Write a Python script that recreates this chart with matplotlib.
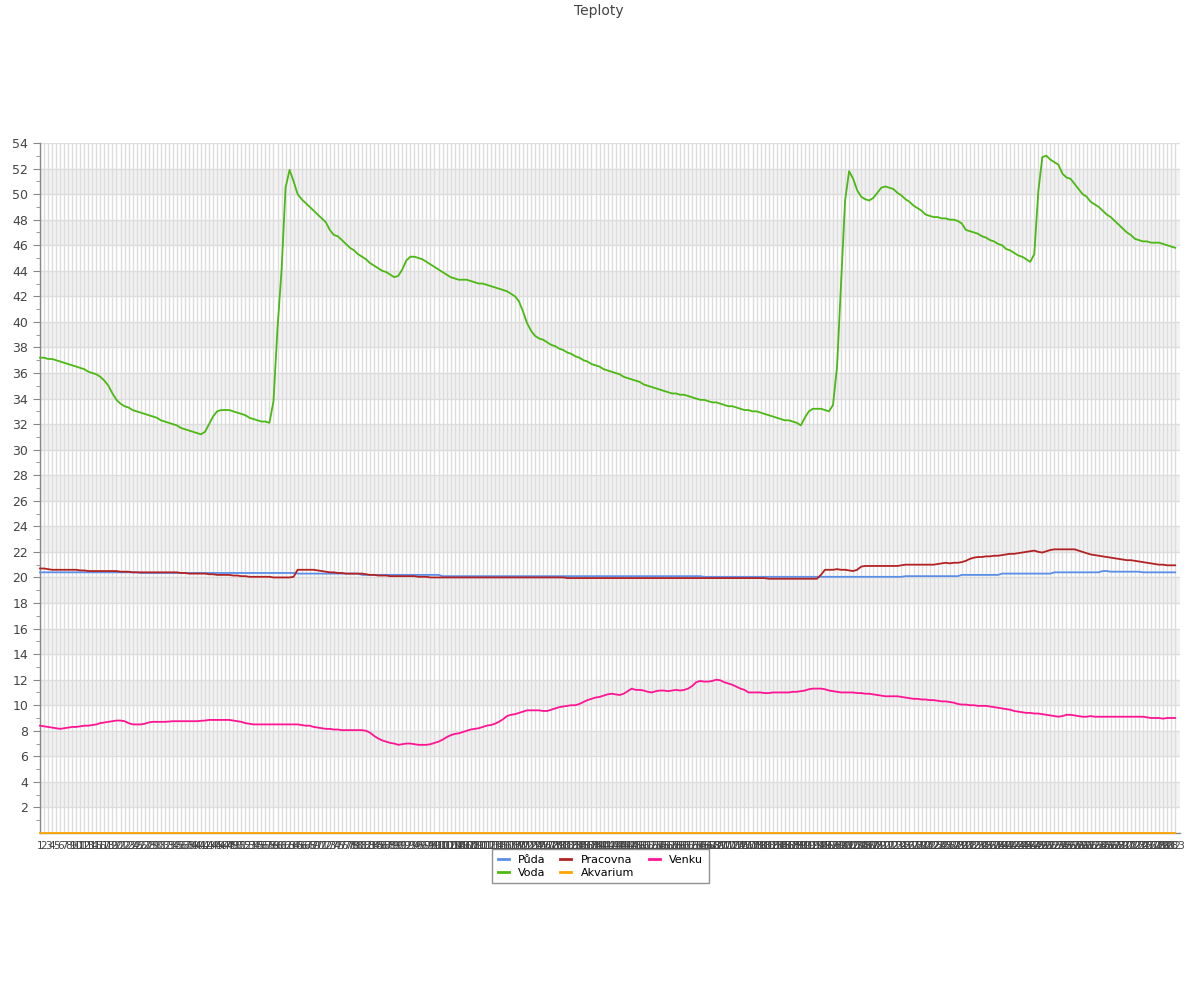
import matplotlib
matplotlib.use("Agg")
import matplotlib.pyplot as plt
from matplotlib.lines import Line2D

title = "Teploty"
series_names = ["Půda", "Voda", "Pracovna", "Akvarium", "Venku"]

voda = [
    37.2, 37.2, 37.1, 37.1, 37.0, 36.9, 36.8, 36.7, 36.6, 36.5,
    36.4, 36.3, 36.1, 36.0, 35.9, 35.7, 35.4, 35.0, 34.4, 33.9,
    33.6, 33.4, 33.3, 33.1, 33.0, 32.9, 32.8, 32.7, 32.6, 32.5,
    32.3, 32.2, 32.1, 32.0, 31.9, 31.7, 31.6, 31.5, 31.4, 31.3,
    31.2, 31.4, 32.0, 32.6, 33.0, 33.1, 33.1, 33.1, 33.0, 32.9,
    32.8, 32.7, 32.5, 32.4, 32.3, 32.2, 32.2, 32.1, 33.8, 39.5,
    44.0, 50.5, 51.9, 51.0, 50.0, 49.6, 49.3, 49.0, 48.7, 48.4,
    48.1, 47.8, 47.2, 46.8, 46.7, 46.4, 46.1, 45.8, 45.6, 45.3,
    45.1, 44.9, 44.6, 44.4, 44.2, 44.0, 43.9, 43.7, 43.5, 43.6,
    44.1, 44.8, 45.1, 45.1, 45.0, 44.9, 44.7, 44.5, 44.3, 44.1,
    43.9, 43.7, 43.5, 43.4, 43.3, 43.3, 43.3, 43.2, 43.1, 43.0,
    43.0, 42.9, 42.8, 42.7, 42.6, 42.5, 42.4, 42.2, 42.0, 41.6,
    40.8, 39.9, 39.3, 38.9, 38.7, 38.6, 38.4, 38.2, 38.1, 37.9,
    37.8, 37.6, 37.5, 37.3, 37.2, 37.0, 36.9, 36.7, 36.6, 36.5,
    36.3, 36.2, 36.1, 36.0, 35.9, 35.7, 35.6, 35.5, 35.4, 35.3,
    35.1, 35.0, 34.9, 34.8, 34.7, 34.6, 34.5, 34.4, 34.4, 34.3,
    34.3, 34.2, 34.1, 34.0, 33.9, 33.9, 33.8, 33.7, 33.7, 33.6,
    33.5, 33.4, 33.4, 33.3, 33.2, 33.1, 33.1, 33.0, 33.0, 32.9,
    32.8, 32.7, 32.6, 32.5, 32.4, 32.3, 32.3, 32.2, 32.1, 31.9,
    32.5, 33.0, 33.2, 33.2, 33.2, 33.1, 33.0, 33.5, 36.5, 43.0,
    49.5, 51.8, 51.2, 50.3, 49.8, 49.6, 49.5, 49.7, 50.1, 50.5,
    50.6, 50.5, 50.4, 50.1, 49.9, 49.6, 49.4, 49.1, 48.9, 48.7,
    48.4, 48.3, 48.2, 48.2, 48.1, 48.1, 48.0, 48.0, 47.9, 47.7,
    47.2, 47.1, 47.0, 46.9, 46.7, 46.6, 46.4, 46.3, 46.1, 46.0,
    45.7, 45.6, 45.4, 45.2, 45.1, 44.9, 44.7, 45.3, 50.2, 52.9,
    53.0, 52.7, 52.5, 52.3, 51.6, 51.3, 51.2, 50.8, 50.4, 50.0,
    49.8, 49.4, 49.2, 49.0, 48.7, 48.4, 48.2, 47.9, 47.6, 47.3,
    47.0, 46.8, 46.5, 46.4, 46.3, 46.3, 46.2, 46.2, 46.2, 46.1,
    46.0, 45.9, 45.8,
]

venku = [
    8.4, 8.35, 8.3, 8.25, 8.2, 8.15, 8.2, 8.25, 8.3, 8.3,
    8.35, 8.4, 8.4, 8.45, 8.5, 8.6, 8.65, 8.7, 8.75, 8.8,
    8.8, 8.75, 8.6, 8.5, 8.5, 8.5, 8.55, 8.65, 8.7, 8.7,
    8.7, 8.7, 8.72, 8.75, 8.75, 8.75, 8.75, 8.75, 8.75, 8.75,
    8.78, 8.8, 8.85, 8.85, 8.85, 8.85, 8.85, 8.85, 8.8, 8.75,
    8.7, 8.6, 8.55, 8.5, 8.5, 8.5, 8.5, 8.5, 8.5, 8.5,
    8.5, 8.5, 8.5, 8.5, 8.5, 8.45, 8.4, 8.4, 8.3, 8.25,
    8.2, 8.15, 8.15, 8.1, 8.1, 8.05, 8.05, 8.05, 8.05, 8.05,
    8.05, 8.0, 7.85, 7.6, 7.4, 7.25, 7.15, 7.05, 7.0, 6.9,
    6.95, 7.0, 7.0, 6.95, 6.9, 6.9, 6.9, 6.95, 7.05, 7.15,
    7.3, 7.5, 7.65, 7.75, 7.8, 7.9, 8.0, 8.1, 8.15, 8.2,
    8.3, 8.4, 8.45, 8.55, 8.7, 8.9, 9.15, 9.25, 9.3, 9.4,
    9.5, 9.6, 9.6, 9.6, 9.6, 9.55, 9.55, 9.65, 9.75, 9.85,
    9.9, 9.95, 10.0, 10.0, 10.1, 10.25, 10.4, 10.5, 10.6, 10.65,
    10.75, 10.85, 10.9, 10.85, 10.8, 10.9, 11.1, 11.3, 11.2, 11.2,
    11.15, 11.05, 11.0, 11.1, 11.15, 11.15, 11.1, 11.15, 11.2, 11.15,
    11.2, 11.3, 11.5, 11.8, 11.9, 11.85, 11.85, 11.9, 12.0, 11.95,
    11.8, 11.7, 11.6, 11.45, 11.3, 11.2, 11.0, 11.0, 11.0, 11.0,
    10.95, 10.95, 11.0, 11.0, 11.0, 11.0, 11.0, 11.05, 11.05, 11.1,
    11.15, 11.25, 11.3, 11.3, 11.3, 11.25, 11.15, 11.1, 11.05, 11.0,
    11.0, 11.0, 11.0, 10.95, 10.95, 10.9, 10.9, 10.85, 10.8, 10.75,
    10.7, 10.7, 10.7, 10.7, 10.65, 10.6, 10.55, 10.5, 10.5, 10.45,
    10.45, 10.4, 10.4, 10.35, 10.3, 10.3, 10.25, 10.2, 10.1, 10.05,
    10.05, 10.0, 10.0, 9.95, 9.95, 9.95, 9.9, 9.85, 9.8, 9.75,
    9.7, 9.65, 9.55, 9.5, 9.45, 9.4, 9.4, 9.35, 9.35, 9.3,
    9.25, 9.2, 9.15, 9.1, 9.15, 9.25, 9.25, 9.2, 9.15, 9.1,
    9.1, 9.15, 9.1, 9.1, 9.1, 9.1, 9.1, 9.1, 9.1, 9.1,
    9.1, 9.1, 9.1, 9.1, 9.1, 9.05, 9.0, 9.0, 9.0, 8.95,
    9.0, 9.0, 9.0,
]

pracovna = [
    20.7, 20.7, 20.65, 20.6, 20.6, 20.6, 20.6, 20.6, 20.6, 20.6,
    20.55, 20.55, 20.5, 20.5, 20.5, 20.5, 20.5, 20.5, 20.5, 20.5,
    20.45, 20.45, 20.45, 20.4, 20.4, 20.4, 20.4, 20.4, 20.4, 20.4,
    20.4, 20.4, 20.4, 20.4, 20.4, 20.35, 20.35, 20.3, 20.3, 20.3,
    20.3, 20.3, 20.25, 20.25, 20.2, 20.2, 20.2, 20.2, 20.15, 20.15,
    20.1, 20.1, 20.05, 20.05, 20.05, 20.05, 20.05, 20.05, 20.0, 20.0,
    20.0, 20.0, 20.0, 20.05, 20.6, 20.6, 20.6, 20.6, 20.6, 20.55,
    20.5, 20.45, 20.4, 20.4, 20.35, 20.35, 20.3, 20.3, 20.3, 20.3,
    20.3, 20.25, 20.2, 20.2, 20.15, 20.15, 20.15, 20.1, 20.1, 20.1,
    20.1, 20.1, 20.1, 20.1, 20.05, 20.05, 20.05, 20.0, 20.0, 20.0,
    20.0, 20.0, 20.0, 20.0, 20.0, 20.0, 20.0, 20.0, 20.0, 20.0,
    20.0, 20.0, 20.0, 20.0, 20.0, 20.0, 20.0, 20.0, 20.0, 20.0,
    20.0, 20.0, 20.0, 20.0, 20.0, 20.0, 20.0, 20.0, 20.0, 20.0,
    20.0, 19.95, 19.95, 19.95, 19.95, 19.95, 19.95, 19.95, 19.95, 19.95,
    19.95, 19.95, 19.95, 19.95, 19.95, 19.95, 19.95, 19.95, 19.95, 19.95,
    19.95, 19.95, 19.95, 19.95, 19.95, 19.95, 19.95, 19.95, 19.95, 19.95,
    19.95, 19.95, 19.95, 19.95, 19.95, 19.95, 19.95, 19.95, 19.95, 19.95,
    19.95, 19.95, 19.95, 19.95, 19.95, 19.95, 19.95, 19.95, 19.95, 19.95,
    19.95, 19.9, 19.9, 19.9, 19.9, 19.9, 19.9, 19.9, 19.9, 19.9,
    19.9, 19.9, 19.9, 19.9, 20.2, 20.6, 20.6, 20.6, 20.65, 20.6,
    20.6, 20.55, 20.5, 20.6, 20.85, 20.9, 20.9, 20.9, 20.9, 20.9,
    20.9, 20.9, 20.9, 20.9, 20.95, 21.0, 21.0, 21.0, 21.0, 21.0,
    21.0, 21.0, 21.0, 21.05, 21.1, 21.15, 21.1, 21.15, 21.15, 21.2,
    21.3, 21.45, 21.55, 21.6, 21.6, 21.65, 21.65, 21.7, 21.7, 21.75,
    21.8, 21.85, 21.85, 21.9, 21.95, 22.0, 22.05, 22.1, 22.0, 21.95,
    22.05, 22.15, 22.2, 22.2, 22.2, 22.2, 22.2, 22.2, 22.1, 22.0,
    21.9, 21.8, 21.75, 21.7, 21.65, 21.6, 21.55, 21.5, 21.45, 21.4,
    21.35, 21.35, 21.3, 21.25, 21.2, 21.15, 21.1, 21.05, 21.0, 21.0,
    20.95, 20.95, 20.95,
]

puda = (
    [20.4] * 25 + [20.35] * 39 + [20.3] * 16 + [20.2] * 20 + [20.1] * 65
    + [20.05] * 50 + [20.1] * 14 + [20.2] * 10 + [20.3] * 13 + [20.4] * 12
    + [20.5] * 2 + [20.45] * 8 + [20.4] * 9
)

akvarium = [0.0] * len(voda)

x_labels = [str(i + 1) for i in range(len(voda))]

colors = {
    "Půda": "#5b8ee6",
    "Voda": "#4cb814",
    "Pracovna": "#b22222",
    "Akvarium": "#ffa500",
    "Venku": "#ff1493",
}

data = {
    "Půda": puda,
    "Voda": voda,
    "Pracovna": pracovna,
    "Akvarium": akvarium,
    "Venku": venku,
}

plt.rcParams["font.family"] = ["DejaVu Sans"]
fig = plt.figure(figsize=(12, 10), dpi=100)
ax = fig.add_axes([40 / 1200, 167 / 1000, 1140 / 1200, 690 / 1000])

n = len(voda)
xs = list(range(n))

# alternating bands
for lo in range(2, 54, 4):
    ax.axhspan(lo, lo + 2, color="#f2f2f2", zorder=0, lw=0)

ax.set_xlim(0, n - 1 + 1.2)
ax.set_ylim(0, 54)

ax.set_yticks(list(range(2, 55, 2)))
ax.set_yticks(list(range(1, 54, 2)), minor=True)
ax.set_xticks(xs)
ax.set_xticklabels(x_labels, fontsize=7.5, color="#444444")
ax.tick_params(axis="y", which="major", labelsize=9, labelcolor="#444444",
               color="#888888", length=5, direction="out")
ax.tick_params(axis="y", which="minor", color="#888888", length=3)
ax.tick_params(axis="x", length=0, pad=6)

ax.grid(True, axis="both", which="major", color="#dddddd", lw=1, zorder=1)
ax.set_axisbelow(True)

for side in ("top", "right"):
    ax.spines[side].set_visible(False)
for side in ("left", "bottom"):
    ax.spines[side].set_color("#888888")
    ax.spines[side].set_linewidth(1)

handles = []
for name in series_names:
    ax.plot(xs, data[name], color=colors[name], lw=1.3, zorder=3,
            solid_joinstyle="round", clip_on=False)
    handles.append(Line2D([0], [0], color=colors[name], lw=2))

leg = ax.legend(handles, series_names, loc="upper center",
                bbox_to_anchor=(0.4917, -0.0232), ncol=3, fontsize=8,
                frameon=True, fancybox=False, handlelength=1.0,
                columnspacing=1.3, handletextpad=0.85, borderpad=0.5,
                labelspacing=0.3, borderaxespad=0)
leg.get_frame().set_edgecolor("#777777")
leg.get_frame().set_linewidth(1)
leg.set_zorder(5)

fig.text(0.499, 0.989, title, ha="center", va="center", fontsize=10,
         color="#444444")

fig.savefig("out.png", dpi=100)
